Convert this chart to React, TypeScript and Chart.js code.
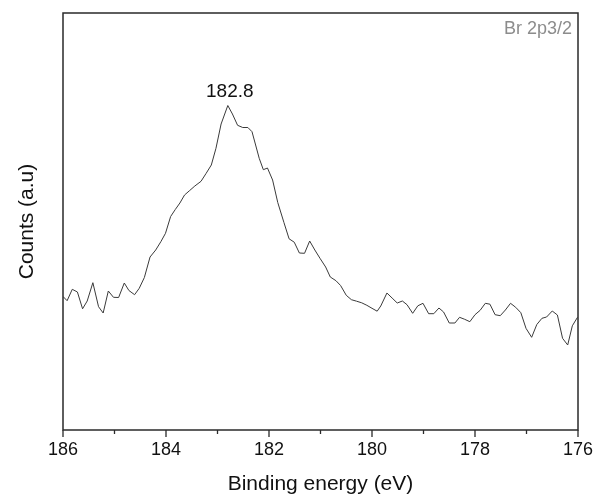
import React, { useEffect, useRef } from "react";
import { Chart, registerables } from "chart.js";

Chart.register(...registerables);

const energies = [
  186.0, 185.92, 185.82, 185.72, 185.62, 185.53, 185.42, 185.31, 185.22, 185.12,
  185.02, 184.92, 184.81, 184.72, 184.61, 184.52, 184.42, 184.31, 184.2, 184.1,
  184.01, 183.91, 183.82, 183.73, 183.64, 183.54, 183.44, 183.32, 183.22, 183.12,
  183.03, 182.93, 182.8, 182.71, 182.61, 182.51, 182.41, 182.33, 182.26, 182.19,
  182.11, 182.03, 181.93, 181.83, 181.71, 181.61, 181.51, 181.41, 181.31, 181.21,
  181.11, 181.01, 180.9, 180.81, 180.7, 180.61, 180.5, 180.4, 180.3, 180.2,
  180.1, 180.0, 179.9, 179.83, 179.71, 179.61, 179.51, 179.41, 179.32, 179.21,
  179.11, 179.01, 178.9, 178.8, 178.7, 178.61, 178.5, 178.39, 178.3, 178.2,
  178.1, 178.0, 177.9, 177.8, 177.71, 177.61, 177.51, 177.41, 177.31, 177.21,
  177.11, 177.01, 176.9, 176.8, 176.7, 176.61, 176.5, 176.4, 176.3, 176.2,
  176.11, 176.01,
];

const counts = [
  133.5, 129.3, 140.7, 138, 121.2, 129, 147.3, 123.3, 117, 139,
  132.7, 132.5, 147, 139.5, 135.3, 141.7, 152.5, 173, 180, 188.3,
  196.7, 213.5, 220.5, 227, 235, 239.5, 244, 248.7, 256.7, 265,
  281.7, 306, 324.5, 316, 304.7, 302.5, 302.5, 298.3, 285, 271.7,
  260.3, 262, 250, 227.5, 207.5, 191.2, 187.8, 177, 176.7, 189,
  180, 171.7, 163, 153, 149.3, 144.5, 134.7, 130.3, 128.8, 127.2,
  124.7, 121.7, 118.8, 124, 137, 132, 127, 129, 125.3, 116.7,
  124.2, 126.7, 116.3, 116.3, 122, 118, 107, 107, 112.7, 110.7,
  108.3, 115.3, 119.7, 126.7, 125.8, 115.3, 114.3, 120, 126.7, 122.7,
  117.3, 101.7, 92.7, 105.5, 111.7, 113, 119, 115, 91.7, 85,
  104.2, 112.7,
];

const majorTicks = [186, 184, 182, 180, 178, 176];
const minorTicks = [185, 183, 181, 179, 177];
const peakLabel = { text: "182.8", energy: 182.8 };
const cornerLabel = "Br 2p3/2";
const xTitle = "Binding energy (eV)";
const yTitle = "Counts (a.u)";

const FONT = "'Liberation Sans', Arial, sans-serif";

const framePlugin = {
  id: "frameAndLabels",
  afterDraw(chart: any) {
    const { ctx, chartArea, scales } = chart;
    const xs = scales.x;
    const ys = scales.y;
    ctx.save();
    ctx.strokeStyle = "#2a2a2a";
    ctx.lineWidth = 1.5;
    ctx.strokeRect(chartArea.left, chartArea.top, chartArea.right - chartArea.left, chartArea.bottom - chartArea.top);
    ctx.lineWidth = 1.3;
    ctx.beginPath();
    majorTicks.forEach((v) => {
      const px = xs.getPixelForValue(v);
      ctx.moveTo(px, chartArea.bottom);
      ctx.lineTo(px, chartArea.bottom + 7);
    });
    minorTicks.forEach((v) => {
      const px = xs.getPixelForValue(v);
      ctx.moveTo(px, chartArea.bottom);
      ctx.lineTo(px, chartArea.bottom + 4);
    });
    ctx.stroke();
    const idx = energies.indexOf(peakLabel.energy);
    const py = ys.getPixelForValue(counts[idx]);
    ctx.fillStyle = "#111";
    ctx.font = `19px ${FONT}`;
    ctx.textAlign = "center";
    ctx.textBaseline = "middle";
    ctx.fillText(peakLabel.text, xs.getPixelForValue(peakLabel.energy) + 2, py - 14);
    ctx.fillStyle = "#8c8c8c";
    ctx.font = `18px ${FONT}`;
    ctx.textAlign = "right";
    ctx.fillText(cornerLabel, chartArea.right - 6, chartArea.top + 16);
    ctx.restore();
  },
};

export default function App() {
  const ref = useRef<HTMLCanvasElement | null>(null);
  useEffect(() => {
    if (!ref.current) return;
    const chart = new Chart(ref.current, {
      type: "line",
      data: {
        datasets: [
          {
            data: energies.map((e, i) => ({ x: e, y: counts[i] })),
            borderColor: "#3a3a3a",
            borderWidth: 1,
            pointRadius: 0,
            tension: 0,
            fill: false,
          },
        ],
      },
      options: {
        animation: false,
        responsive: false,
        devicePixelRatio: 1,
        layout: { padding: { top: 13, right: 19, left: 0, bottom: 0 } },
        plugins: { legend: { display: false }, tooltip: { enabled: false } },
        scales: {
          x: {
            type: "linear",
            reverse: true,
            min: 176,
            max: 186,
            afterFit: (s: any) => {
              s.height = 68;
              s.paddingLeft = 0;
              s.paddingRight = 0;
            },
            afterBuildTicks: (s: any) => {
              s.ticks = majorTicks.map((v) => ({ value: v }));
            },
            grid: { display: false, drawTicks: false },
            border: { display: false },
            ticks: {
              color: "#111",
              font: { family: FONT, size: 18 },
              padding: 9,
              maxRotation: 0,
              autoSkip: false,
            },
            title: {
              display: true,
              text: xTitle,
              color: "#111",
              font: { family: FONT, size: 21, lineHeight: 1 },
              padding: { top: 0, bottom: 3 },
            },
          },
          y: {
            type: "linear",
            min: 0,
            max: 417,
            afterFit: (s: any) => {
              s.width = 63;
            },
            grid: { display: false, drawTicks: false },
            border: { display: false },
            ticks: { display: false },
            title: {
              display: true,
              text: yTitle,
              color: "#111",
              font: { family: FONT, size: 21, lineHeight: 1 },
              padding: { top: 17, bottom: 0 },
            },
          },
        },
      },
      plugins: [framePlugin],
    } as any);
    return () => chart.destroy();
  }, []);
  return (
    <div style={{ position: "fixed", left: 0, top: 0, width: 597, height: 498, background: "#fff" }}>
      <canvas ref={ref} width={597} height={498} />
    </div>
  );
}
